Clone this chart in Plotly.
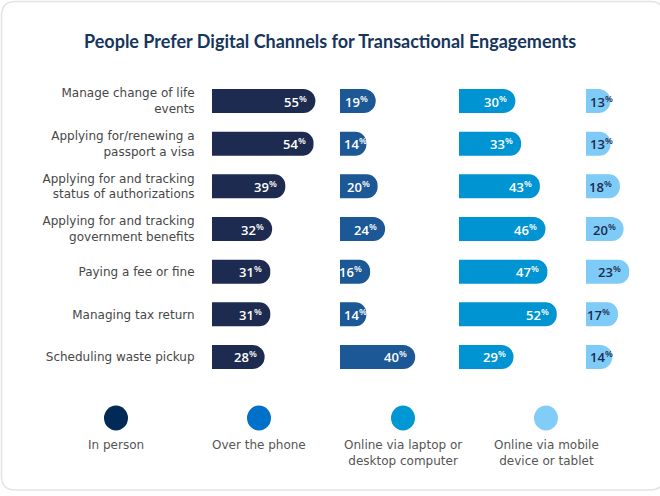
import plotly.graph_objects as go

W, H = 660, 496

title = "People Prefer Digital Channels for Transactional Engagements"
categories = [
    "Manage change of life<br>events",
    "Applying for/renewing a<br>passport a visa",
    "Applying for and tracking<br>status of authorizations",
    "Applying for and tracking<br>government benefits",
    "Paying a fee or fine",
    "Managing tax return",
    "Scheduling waste pickup",
]
series_names = ["In person", "Over the phone",
                "Online via laptop or<br>desktop computer",
                "Online via mobile<br>device or tablet"]
in_person = [55, 54, 39, 32, 31, 31, 28]
over_phone = [19, 14, 20, 24, 16, 14, 40]
online_laptop = [30, 33, 43, 46, 47, 52, 29]
online_mobile = [13, 13, 18, 20, 23, 17, 14]

series_values = [in_person, over_phone, online_laptop, online_mobile]
bar_colors = ["#1c2b4f", "#1b5895", "#0095d2", "#7fcbf7"]
legend_colors = ["#012a56", "#0070c8", "#0098d4", "#82cdf8"]
text_colors = ["#ffffff", "#ffffff", "#ffffff", "#1c2b4f"]

# layout geometry (pixels)
PX_PER_UNIT = 1.88
col_start = [212, 340, 459, 586]
col_range = [60, 60, 60, 35]
row_top, row_bottom = 79.7, 378.3
LABEL_W = 22  # approx label width in px

def px(x):
    return x / W

def py(y):
    return 1 - y / H

fig = go.Figure()
for i, (vals, col) in enumerate(zip(series_values, bar_colors)):
    ax = "x" if i == 0 else f"x{i+1}"
    fig.add_trace(go.Bar(
        y=categories, x=vals, orientation="h",
        xaxis=ax, yaxis="y",
        marker=dict(color=col, line=dict(width=0)),
        width=0.5625,
        hoverinfo="skip", showlegend=False,
    ))
    for cat, v in zip(categories, vals):
        short = v * PX_PER_UNIT - 6 < LABEL_W + 2
        fig.add_annotation(
            x=0 if short else v, y=cat, xref=ax, yref="y",
            text=f"{v}<sup>%</sup>", showarrow=False,
            xanchor="left" if short else "right",
            xshift=2 if short else -6, yanchor="middle",
            font=dict(family="Open Sans", size=13, color=text_colors[i], weight=600),
        )

layout = dict(
    width=W, height=H,
    margin=dict(l=0, r=0, t=0, b=0),
    paper_bgcolor="white", plot_bgcolor="rgba(0,0,0,0)",
    barcornerradius=12,
    showlegend=False,
    yaxis=dict(
        domain=[py(row_bottom), py(row_top)],
        range=[6.5, -0.5], type="category",
        showgrid=False, zeroline=False, showline=False,
        ticks="outside", ticklen=14, tickcolor="rgba(0,0,0,0)",
        tickfont=dict(family="DejaVu Sans", size=12, color="#474747"),
        anchor="x", automargin=False,
    ),
)
for i in range(4):
    key = "xaxis" if i == 0 else f"xaxis{i+1}"
    d0 = col_start[i]
    d1 = d0 + col_range[i] * PX_PER_UNIT
    layout[key] = dict(
        domain=[px(d0), px(d1)], range=[0, col_range[i]],
        visible=False, showgrid=False, zeroline=False,
        anchor="y", automargin=False, fixedrange=True,
    )
fig.update_layout(**layout)

# title
fig.add_annotation(
    text=f"<b>{title}</b>", x=0.5, y=py(41), xref="paper", yref="paper",
    showarrow=False, xanchor="center", yanchor="middle",
    font=dict(family="Lato", size=18, color="#17365d"),
)

# legend (circles + labels)
leg_x = [116, 259, 403, 546]
for i, name in enumerate(series_names):
    fig.add_shape(
        type="circle", xref="paper", yref="paper",
        xsizemode="pixel", ysizemode="pixel",
        xanchor=px(leg_x[i]), yanchor=py(418),
        x0=-12, x1=12, y0=-12.5, y1=12.5,
        fillcolor=legend_colors[i], line=dict(width=0),
    )
    fig.add_annotation(
        text=name, x=px(leg_x[i]), y=py(436), xref="paper", yref="paper",
        showarrow=False, xanchor="center", yanchor="top", align="center",
        font=dict(family="DejaVu Sans", size=12, color="#555555"),
    )

# card border (rounded rectangle)
x0, x1, y0, y1, r = 1.5, 664, 1.5, 490, 14
path = (
    f"M {px(x0+r)},{py(y0)} L {px(x1-r)},{py(y0)} "
    f"Q {px(x1)},{py(y0)} {px(x1)},{py(y0+r)} "
    f"L {px(x1)},{py(y1-r)} Q {px(x1)},{py(y1)} {px(x1-r)},{py(y1)} "
    f"L {px(x0+r)},{py(y1)} Q {px(x0)},{py(y1)} {px(x0)},{py(y1-r)} "
    f"L {px(x0)},{py(y0+r)} Q {px(x0)},{py(y0)} {px(x0+r)},{py(y0)} Z"
)
fig.add_shape(type="path", path=path, xref="paper", yref="paper",
              line=dict(color="#e3e3e3", width=1.5), layer="below")

fig.write_html("out.html",
               config={"displayModeBar": False, "staticPlot": True},
               post_script="document.body.style.margin='0';document.body.style.overflow='hidden';")
